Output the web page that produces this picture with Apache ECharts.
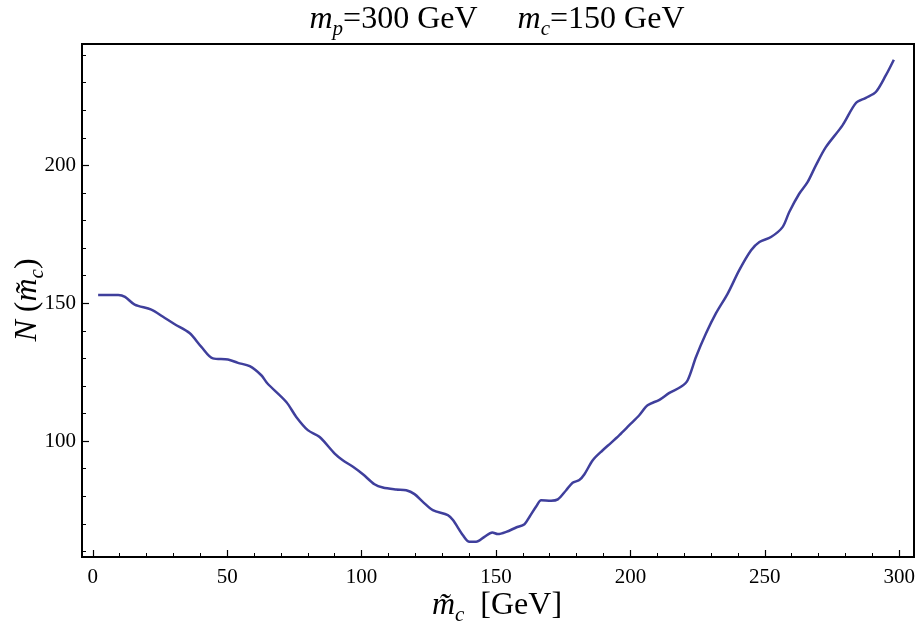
<!DOCTYPE html>
<html>
<meta charset="UTF-8">
<title>N(m_c) scan</title>
<style type="text/css">
    html,
    body {
        margin: 0px;
        height: 100%;
        width: 100%;
        background: #fff;
    }

    #chart {
        width: 922px;
        height: 629px;
    }
</style>
<script src="https://cdn.jsdelivr.net/npm/echarts@6/dist/echarts.min.js"></script>

<body>
    <div id="chart"></div>
    <script>
        // trial mass (GeV) and the count
        const massValues = [2, 9.5, 12, 15.6, 21.8, 26, 30.5, 36, 40.4, 44.7, 50.3, 54, 58.4, 62.7, 65, 72, 75.7, 80, 84.4, 90,
            93, 96.8, 100.5, 104.8, 107.9, 112.9, 116.6, 119.7, 122.8, 126.5, 132.1, 134, 137.7, 140.1, 142.6, 145.7, 148.6, 150.7, 153.8, 157.5,
            160.6, 162.5, 165, 166.8, 170.5, 173, 176.1, 178.5, 181, 182.9, 186, 189.7, 192.8, 195.9, 199.6, 203.3, 206.4, 210.8, 214.5, 218.8,
            221.3, 224.4, 228.1, 231.8, 236.2, 240.5, 244.9, 248, 252.3, 256.6, 259.1, 262.8, 265.9, 269, 272.7, 278.9, 283.9, 287.6, 291.3, 295, 298];
        const countValues = [153, 153, 152.3, 149.5, 147.7, 145.2, 142.4, 139.2, 134.2, 130, 129.6, 128.4, 127.2, 123.9, 120.9, 114.2, 108.8, 104, 101.5, 95.5,
            93.1, 90.7, 88, 84.4, 83.2, 82.5, 82.2, 80.8, 78, 75, 73.2, 71.4, 65.9, 63.5, 63.5, 65.3, 66.9, 66.3, 67.1, 68.7,
            69.9, 72.6, 76.4, 78.6, 78.4, 78.9, 82.2, 84.9, 85.9, 88, 93.1, 96.7, 99.4, 102.2, 105.8, 109.4, 113, 115, 117.5, 119.7,
            122.1, 130.5, 139, 146.3, 153.5, 162, 169.2, 172.2, 174, 177.6, 183.1, 189.7, 193.9, 200, 206.6, 214.5, 222.6, 224.5, 226.6, 232.6, 238.3];

        const xMajor = [0, 50, 100, 150, 200, 250, 300];
        const xMinor = [10, 20, 30, 40, 60, 70, 80, 90, 110, 120, 130, 140, 160, 170, 180, 190, 210, 220, 230, 240, 260, 270, 280, 290];
        const yMajor = [100, 150, 200];
        const yMinor = [60, 70, 80, 90, 110, 120, 130, 140, 160, 170, 180, 190, 210, 220, 230, 240];

        const serif = 'Liberation Serif';
        const xRange = [-4, 305.5];
        const yRange = [58, 244];

        function axis(range, major, minor, isX) {
            const base = {
                type: 'value',
                position: isX ? 'bottom' : 'left',
                offset: 0,
                min: range[0],
                max: range[1],
                splitLine: { show: false },
                axisLine: { show: true, onZero: false, lineStyle: { color: '#000', width: 2 } }
            };
            return [
                Object.assign({}, base, {
                    axisTick: { show: true, inside: true, length: 7, customValues: major, lineStyle: { color: '#000', width: 1.2 } },
                    axisLabel: { customValues: major, color: '#000', fontFamily: serif, fontSize: 21, margin: isX ? 10 : 6 }
                }),
                Object.assign({}, base, {
                    axisTick: { show: true, inside: true, length: 4, customValues: minor, lineStyle: { color: '#000', width: 1 } },
                    axisLabel: { show: false }
                })
            ];
        }

        function mathRich() {
            return {
                i: { fontFamily: serif, fontStyle: 'italic', fontSize: 32, lineHeight: 36, fill: '#000' },
                r: { fontFamily: serif, fontSize: 32, lineHeight: 36, fill: '#000' },
                s: { fontFamily: serif, fontStyle: 'italic', fontSize: 21, lineHeight: 21, padding: [18, 0, 0, 0], fill: '#000' }
            };
        }

        const chart = echarts.init(document.querySelector('#chart'));
        chart.setOption({
            animation: false,
            grid: {
                left: 82, right: 8, top: 44, bottom: 72,
                show: true, borderColor: '#000', borderWidth: 2, backgroundColor: 'transparent'
            },
            xAxis: axis(xRange, xMajor, xMinor, true),
            yAxis: axis(yRange, yMajor, yMinor, false),
            graphic: [
                {
                    type: 'text', x: 497, y: 20,
                    style: {
                        text: '{i|m}{s|p}{r|=300 GeV     }{i|m}{s|c}{r|=150 GeV}',
                        align: 'center', verticalAlign: 'middle',
                        rich: mathRich()
                    }
                },
                {
                    type: 'text', x: 497, y: 606,
                    style: {
                        text: '{i|m\u0303}{s|c}{r|  [GeV]}',
                        align: 'center', verticalAlign: 'middle',
                        rich: mathRich()
                    }
                },
                {
                    type: 'text', x: 28, y: 300, rotation: Math.PI / 2,
                    style: {
                        text: '{i|N}{r| (}{i|m\u0303}{s|c}{r|)}',
                        align: 'center', verticalAlign: 'middle',
                        rich: mathRich()
                    }
                }
            ],
            series: [
                {
                    type: 'line',
                    xAxisIndex: 0,
                    yAxisIndex: 0,
                    data: massValues.map((m, i) => [m, countValues[i]]),
                    showSymbol: false,
                    smooth: 0.3,
                    lineStyle: { color: '#3f3f9c', width: 2.5 }
                }
            ]
        });
    </script>
</body>

</html>
